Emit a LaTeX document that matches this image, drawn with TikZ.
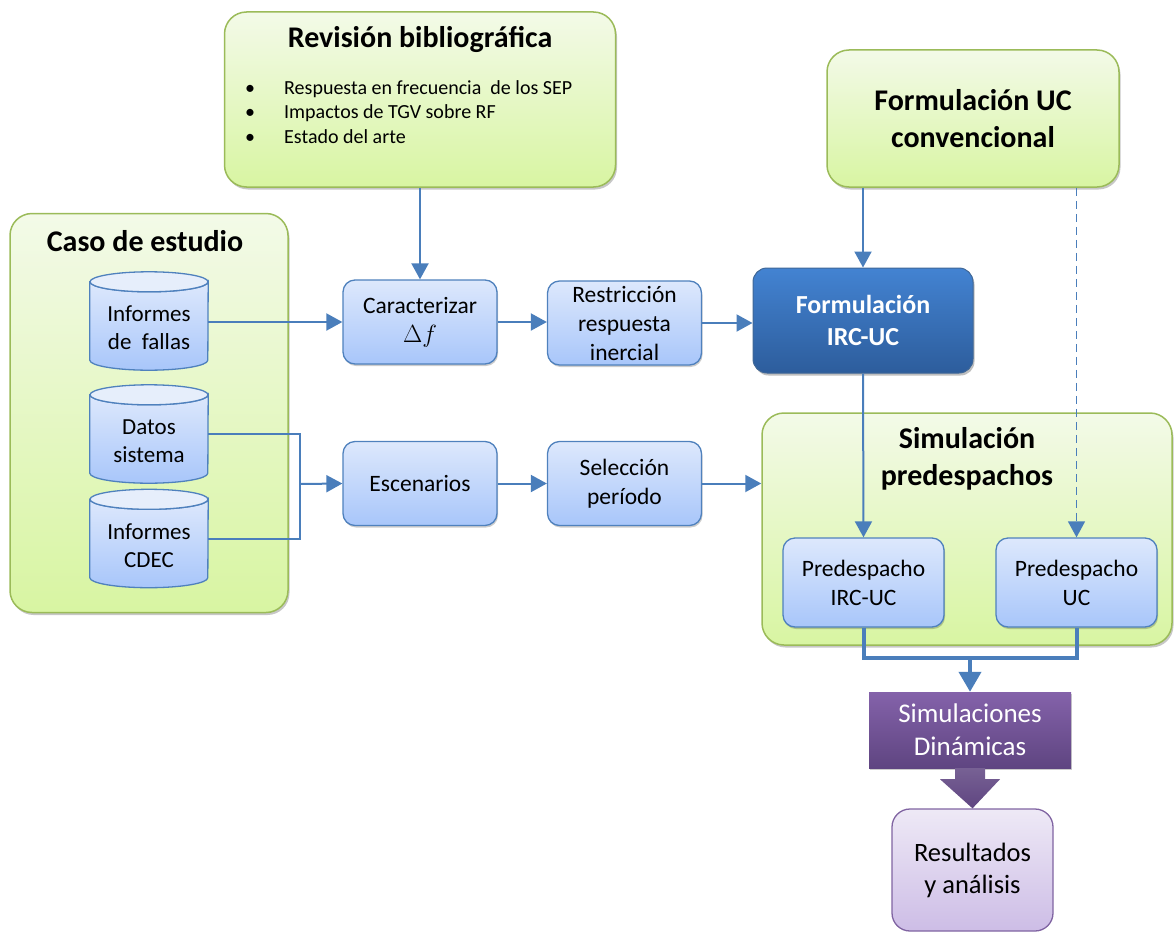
\documentclass[tikz,border=0pt]{standalone}
\usepackage{fontspec}
\setmainfont{Carlito}
\usetikzlibrary{arrows.meta,shadows}
\definecolor{arrowblue}{HTML}{4A7EBB}
\definecolor{greenborder}{HTML}{9BBB59}
\definecolor{greentop}{HTML}{F3FAE8}
\definecolor{greenbot}{HTML}{D8F5A2}
\definecolor{procborder}{HTML}{4F81BD}
\definecolor{proctop}{HTML}{DDE8FC}
\definecolor{procbot}{HTML}{A8C6FA}
\definecolor{darktop}{HTML}{4383D2}
\definecolor{darkbot}{HTML}{2D5D9C}
\definecolor{purptop}{HTML}{8462AA}
\definecolor{purpbot}{HTML}{5F4581}
\definecolor{lavtop}{HTML}{EEE9F6}
\definecolor{lavbot}{HTML}{CDBDE6}
\definecolor{lavborder}{HTML}{8064A2}
\definecolor{cyltopc}{HTML}{E6EEFB}
\newcommand\mycyl[5]{%
  \node[cylbox] (#1) at (#2,#3) {};
  \path[cylbody] ([yshift=-10pt]#1.north west) -- ([yshift=10pt]#1.south west)
     arc[start angle=180,end angle=0,x radius=59,y radius=10]
     -- ([yshift=-10pt]#1.north east)
     arc[start angle=0,end angle=180,x radius=59,y radius=10] -- cycle;
  \path[cyltop] ([yshift=-10pt]#1.north) ellipse[x radius=59,y radius=10];
  \node[cyltext] (#1t) at ([yshift=-#4pt]#1.center) {#5};
}
\begin{document}
\begin{tikzpicture}[x=1pt,y=-1pt,
  greenbox/.style={draw=greenborder, line width=1.5pt, rounded corners=22pt,
     top color=greentop, bottom color=greenbot,
     drop shadow={shadow xshift=1.5pt,shadow yshift=-2.5pt,opacity=0.22,fill=black}},
  proc/.style={draw=procborder, line width=1.3pt, rounded corners=12pt,
     top color=proctop, bottom color=procbot, minimum width=154, minimum height=84,
     align=center, inner sep=0pt, font=\fontsize{23.5}{29}\selectfont,
     drop shadow={shadow xshift=1pt,shadow yshift=-2pt,opacity=0.2,fill=black}},
  bigtitle/.style={align=center, inner sep=0pt, font=\fontsize{30}{36.5}\selectfont\bfseries},
  cylbox/.style={minimum width=118, minimum height=98, inner sep=0pt},
  cylbody/.style={draw=procborder, line width=1.3pt, top color=proctop, bottom color=procbot},
  cyltop/.style={draw=procborder, line width=1.3pt, fill=cyltopc},
  cyltext/.style={align=center, inner sep=0pt, font=\fontsize{23}{28}\selectfont},
  arr/.style={draw=arrowblue, line width=2pt, -{Triangle[length=16pt,width=17pt]}},
  conn/.style={draw=arrowblue, line width=2pt},
  thickconn/.style={draw=arrowblue, line width=4pt},
]
\useasboundingbox (0,0) rectangle (1174,934);

% green containers
\node[greenbox, minimum width=391, minimum height=175] (rev) at (420,99.5) {};
\node[bigtitle] (revt) at (420,39) {Revisión bibliográfica};
\node[align=left, anchor=west, inner sep=0pt, font=\fontsize{20}{24.5}\selectfont] (revl) at (245,112)
  {\makebox[39pt][l]{•}Respuesta en frecuencia\ \ de los SEP\\
   \makebox[39pt][l]{•}Impactos de TGV sobre RF\\
   \makebox[39pt][l]{•}Estado del arte};

\node[greenbox, minimum width=278, minimum height=399] (caso) at (149,413) {};
\node[bigtitle] (casot) at (145,241) {Caso de estudio};

\node[greenbox, minimum width=292, minimum height=137, bigtitle] (ucc) at (973,118.5)
  {Formulación UC\\convencional};

\node[greenbox, minimum width=410, minimum height=232] (sim) at (967,529) {};
\node[bigtitle] (simt) at (967,459) {Simulación\\predespachos};

% cylinders
\mycyl{cyl1}{149}{321}{7}{Informes\\de\ \ fallas}
\mycyl{cyl2}{149}{434}{7}{Datos\\sistema}
\mycyl{cyl3}{149}{538.5}{7}{Informes\\CDEC}

% process boxes
\node[proc] (car) at (420,322) {Caracterizar\\$\Delta f$};
\node[proc] (res) at (624.5,323) {Restricción\\respuesta\\inercial};
\node[proc] (esc) at (420,483.5) {Escenarios};
\node[proc] (sel) at (624.5,483.5) {Selección\\período};

\node[draw=procborder!80!black, line width=1pt, rounded corners=14pt,
      top color=darktop, bottom color=darkbot, minimum width=220, minimum height=105,
      align=center, inner sep=0pt, text=white, font=\fontsize{26}{31.5}\selectfont\bfseries,
      drop shadow={shadow xshift=1.5pt,shadow yshift=-2.5pt,opacity=0.25,fill=black}]
      (irc) at (863,320.5) {Formulación\\IRC-UC};

\node[proc, minimum width=161, minimum height=89] (pirc) at (863.5,582.5) {Predespacho\\IRC-UC};
\node[proc, minimum width=161, minimum height=89] (puc) at (1076.5,582.5) {Predespacho\\UC};

\node[top color=purptop, bottom color=purpbot, minimum width=202, minimum height=76,
      align=center, inner sep=0pt, text=white, font=\fontsize{27}{33}\selectfont,
      drop shadow={shadow xshift=1pt,shadow yshift=-2pt,opacity=0.2,fill=black}]
      (simd) at (970,730) {Simulaciones\\Dinámicas};

\node[draw=lavborder, line width=1.3pt, rounded corners=18pt, top color=lavtop, bottom color=lavbot,
      minimum width=161, minimum height=122, align=center, inner sep=0pt,
      font=\fontsize{26.5}{32}\selectfont] (resul) at (972.5,870) {Resultados\\y análisis};

% connectors
\draw[arr] (rev.south) -- (car.north);
\draw[arr] (cyl1.east |- car.west) -- (car.west);
\coordinate (jn) at (300,484);
\draw[conn] (cyl2.east) -| (jn);
\draw[conn] (cyl3.east) -| (jn);
\draw[arr] (jn) -- (esc.west);
\draw[arr] (car.east) -- (car.east -| res.west);
\draw[arr] (res.east) -- (res.east -| irc.west);
\draw[arr] (esc.east) -- (sel.west);
\draw[arr] (sel.east) -- (sel.east -| sim.west);
\draw[arr] (irc.north |- ucc.south) -- (irc.north);
\draw[arr] (irc.south) -- (pirc.north);
\draw[arr, dashed, line width=1.5pt, dash pattern=on 8pt off 5pt] (puc.north |- ucc.south) -- (puc.north);
\coordinate (jb) at (970,658);
\draw[thickconn, line join=miter] (pirc.south) |- (jb) -| (puc.south);
\draw[thickconn, -{Triangle[length=20pt,width=22pt]}] (jb) -- (simd.north);

% big purple arrow
\path[top color=purpbot!85, bottom color=purpbot, draw=none]
  ([xshift=-15pt]simd.south) -- ++(0,11) -- ++(-15,0) -- (resul.north)
  -- ([xshift=30pt,yshift=-11pt]simd.south) -- ++(-15,0) -- ([xshift=15pt]simd.south) -- cycle;
\end{tikzpicture}
\end{document}
